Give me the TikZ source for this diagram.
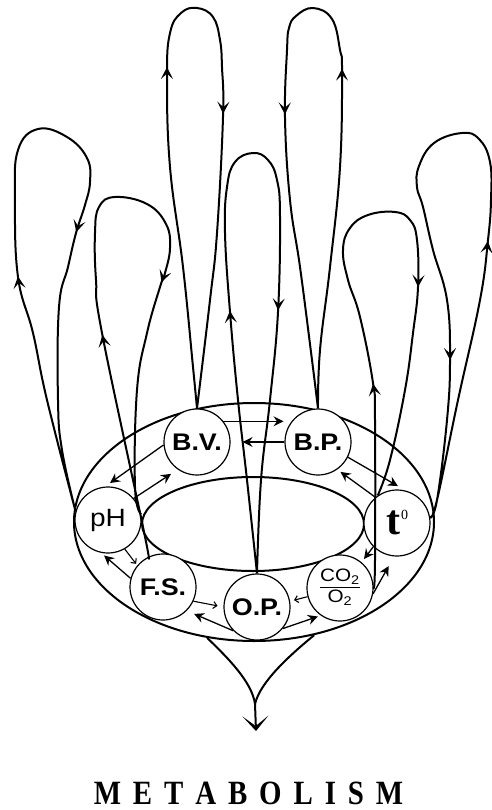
\documentclass[tikz,border=0pt]{standalone}
\usepackage{graphicx}
\usepackage{fontspec}
\setmainfont{Liberation Serif}
\newfontfamily\labsans{Liberation Sans}
\usetikzlibrary{arrows.meta,decorations.markings,shapes.geometric}
\tikzset{
  lh/.tip={Stealth[length=12pt,width=12pt,inset=5.5pt]},
  circ/.style={circle, draw, line width=1.2pt, fill=white, minimum size=66pt, inner sep=0pt},
  ring/.style={ellipse, draw, line width=2pt, inner sep=0pt},
  loopline/.style={line width=2pt, line join=round},
  flow/.style 2 args={postaction={decorate, decoration={markings,
      mark=at position #1 with {\arrow{lh}},
      mark=at position #2 with {\arrow{lh}}}}},
  big/.style={line width=1.3pt, -{Stealth[length=10pt,width=10pt,inset=3.5pt]}},
  small/.style={line width=1.1pt, -{Straight Barb[length=3.5pt,width=7pt]}},
  lab/.style={font=\labsans\bfseries\fontsize{24}{24}\selectfont},
}
\begin{document}
\begin{tikzpicture}[x=1pt,y=-1pt]
\useasboundingbox (0,0) rectangle (491,810);
% rings
\node[ring, minimum width=360pt, minimum height=238pt] (outer) at (254,522) {};
\node[ring, minimum width=222pt, minimum height=94pt] (inner) at (253,524) {};
% circles
\node[circ, lab] (BV) at (197,442) {\scalebox{1.12}[1]{B.V.}};
\node[circ, lab] (BP) at (318,442) {\scalebox{1.12}[1]{B.P.}};
\node[circ, font=\labsans\fontsize{25}{25}\selectfont] (pH) at (108,520) {\scalebox{1.12}[1]{pH}};
\node[circ] (T) at (397,523) {{\fontsize{42}{42}\selectfont\bfseries t}\kern1pt\raisebox{15pt}{\fontsize{14}{14}\selectfont 0}};
\node[circ, lab] (FS) at (163,587) {\scalebox{1.12}[1]{F.S.}};
\node[circ, lab] (OP) at (257,607) {\scalebox{1.12}[1]{O.P.}};
\node[circ, font=\labsans\fontsize{18}{20}\selectfont] (CO) at (340,588)
  {\scalebox{1.15}[1]{\begin{tabular}{@{}c@{}}CO\textsubscript{2}\\[-1pt]\hline\noalign{\vskip1pt}O\textsubscript{2}\end{tabular}}};
% arrows between circles
\draw[big, shorten >=8pt] (BV.38) -- (BP.142);
\draw[big, shorten >=12pt] (BP.180) -- (BV.0);
\draw[big, shorten >=6pt] (BV.185) -- (pH.95);
\draw[big, shorten >=8pt] (pH.40) -- (BV.235);
\draw[small, shorten >=2pt] (pH.300) -- (FS.140);
\draw[big, shorten >=4pt] (FS.165) -- (pH.258);
\draw[small, shorten >=6pt] (FS.-25) -- (OP.180);
\draw[big, shorten >=8pt] (OP.225) -- (FS.-45);
\draw[small, shorten >=4pt] (CO.195) -- (OP.10);
\draw[big, shorten >=3pt] (OP.-40) -- (CO.235);
\draw[big, shorten >=11pt] (CO.-10) -- (T.265);
\draw[big, shorten >=4pt] (T.225) -- (CO.50);
\draw[big, shorten >=9pt] (BP.-27) -- (T.75);
\draw[big, shorten >=4pt] (T.130) -- (BP.-55);
% loops
\draw[loopline, flow={242pt}{-283pt}] plot[smooth, tension=0.7] coordinates {(pH.165) (47,400) (33,333) (18,277) (15,200) (18,150) (38,129) (67,137) (87,158) (90,182) (85,205) (76,233) (68,267) (59,307) (58,400) (62,450) (pH.165)};
\draw[loopline, flow={230pt}{-236pt}] plot[smooth, tension=0.7] coordinates {(FS.116) (143,527) (102,333) (96,280) (95,233) (99,207) (115,197) (147,204) (166,224) (170,248) (165,273) (160,287) (147,333) (137,390) (135,487) (pH.10)};
\draw[loopline, flow={343pt}{-296pt}] plot[smooth, tension=0.7] coordinates {(BV.north) (193,367) (183,267) (170,167) (167,77) (170,33) (181,13) (197,8) (213,17) (220,40) (222,67) (223,117) (217,233) (210,300) (BV.north)};
\draw[loopline, flow={264pt}{-264pt}] plot[smooth, tension=0.7] coordinates {(OP.north) (247,480) (238,400) (230,312) (225,233) (227,187) (235,162) (253,153) (268,160) (277,180) (280,217) (278,312) (270,400) (261,480) (OP.north)};
\draw[loopline, flow={341pt}{-296pt}] plot[smooth, tension=0.7] coordinates {(BP.north) (320,350) (330,267) (340,167) (342,72) (340,50) (332,19) (313,8) (296,16) (289,28) (287,50) (285,118) (290,200) (300,267) (312,360) (BP.north)};
\draw[loopline, flow={205pt}{-213pt}] plot[smooth, tension=0.7] coordinates {(CO.east) (375,560) (375,420) (373,383) (360,317) (348,280) (343,250) (350,228) (368,215) (395,212) (410,220) (417,240) (418,287) (413,333) (405,390) (390,460) (T.125)};
\draw[loopline, flow={284pt}{-160pt}] plot[smooth, tension=0.7] coordinates {(T.10) (437,500) (458,400) (480,300) (488,240) (491,200) (490,162) (479,139) (462,133) (434,143) (419,166) (417,187) (423,207) (433,250) (447,300) (450,360) (447,420) (437,500) (T.10)};
% outflow
\coordinate (vj) at (255,704);
\coordinate (vt) at (256,731);
\draw[loopline] (outer.248) .. controls (228,658) and (252,682) .. (vj);
\draw[loopline] (outer.298) .. controls (290,655) and (260,682) .. (vj);
\draw[loopline, -{Stealth[length=15pt,width=26pt,inset=10pt]}] (vj) -- (vt);
% title
\node[inner sep=0pt, font=\bfseries\fontsize{34}{34}\selectfont] (title) at (248.5,793)
  {\scalebox{0.85}[1]{M\kern14pt E\kern14pt T\kern14pt A\kern14pt B\kern14pt O\kern14pt L\kern14pt I\kern14pt S\kern14pt M}};
\end{tikzpicture}
\end{document}
